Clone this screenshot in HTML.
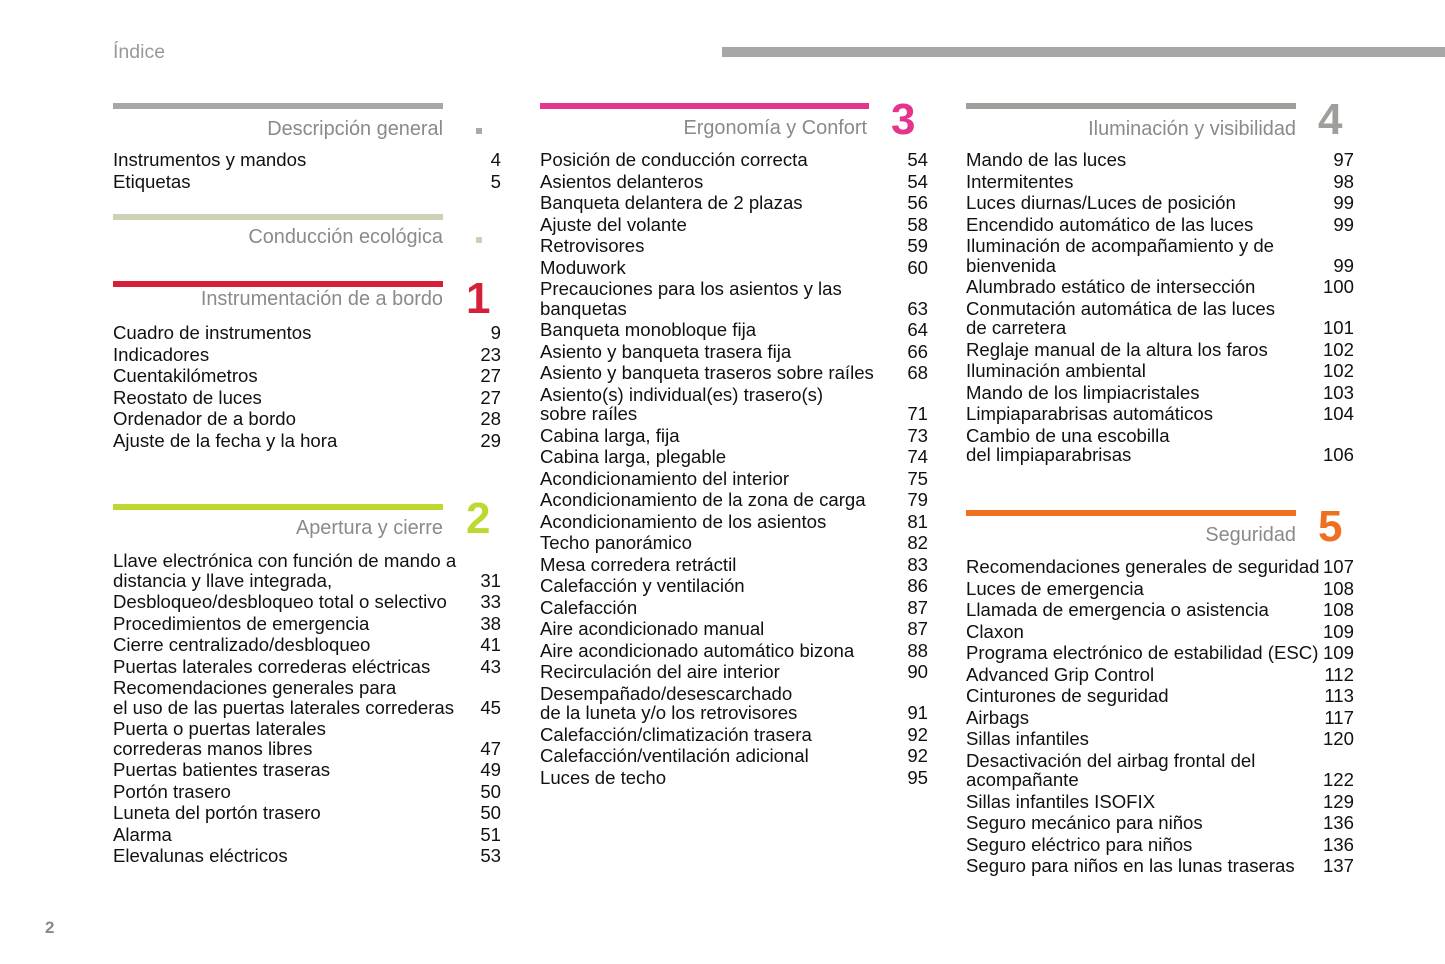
<!DOCTYPE html>
<html><head><meta charset="utf-8"><style>
body{margin:0;width:1445px;height:964px;background:#fff;position:relative;overflow:hidden;font-family:"Liberation Sans",sans-serif;color:#111}
.a{position:absolute}
.bar{position:absolute;height:6px}
.h{position:absolute;font-size:19.9px;color:#8a8a8a;text-align:right;width:330px;line-height:22px}
.big{position:absolute;font-weight:bold;font-size:44px;line-height:44px}
.col{position:absolute;width:388px;font-size:18.6px;line-height:19.5px}
.e{position:relative;padding-top:2px}
.n{position:absolute;right:0;bottom:0}
.sq{position:absolute;width:6px;height:6px}
</style></head><body>
<div class="a" style="left:113px;top:41px;font-size:19.5px;color:#999">Índice</div>
<div class="a" style="left:722px;top:47px;width:723px;height:10px;background:#a7a7aa"></div>
<div class="a" style="left:45px;top:918px;font-size:17px;font-weight:bold;color:#888">2</div>

<!-- col1 -->
<div class="bar" style="left:113px;top:103px;width:330px;background:#a7a7aa"></div>
<div class="h" style="left:113px;top:118px">Descripción general</div>
<div class="sq" style="left:476px;top:128px;background:#aaa"></div>
<div class="col" style="left:113px;top:148px">
<div class="e">Instrumentos y mandos<span class="n">4</span></div>
<div class="e">Etiquetas<span class="n">5</span></div>
</div>
<div class="bar" style="left:113px;top:214px;width:330px;background:#cfd1b6"></div>
<div class="h" style="left:113px;top:226px">Conducción ecológica</div>
<div class="sq" style="left:476px;top:237px;background:#cfd1b6"></div>
<div class="bar" style="left:113px;top:281px;width:330px;background:#d6203a"></div>
<div class="h" style="left:113px;top:288px">Instrumentación de a bordo</div>
<div class="big" style="left:466px;top:277px;color:#d6203a">1</div>
<div class="col" style="left:113px;top:321px">
<div class="e">Cuadro de instrumentos<span class="n">9</span></div>
<div class="e">Indicadores<span class="n">23</span></div>
<div class="e">Cuentakilómetros<span class="n">27</span></div>
<div class="e">Reostato de luces<span class="n">27</span></div>
<div class="e">Ordenador de a bordo<span class="n">28</span></div>
<div class="e">Ajuste de la fecha y la hora<span class="n">29</span></div>
</div>
<div class="bar" style="left:113px;top:504px;width:330px;background:#bfd730"></div>
<div class="h" style="left:113px;top:517px">Apertura y cierre</div>
<div class="big" style="left:466px;top:497px;color:#bfd730">2</div>
<div class="col" style="left:113px;top:549px">
<div class="e">Llave electrónica con función de mando a<br>distancia y llave integrada,<span class="n">31</span></div>
<div class="e">Desbloqueo/desbloqueo total o selectivo<span class="n">33</span></div>
<div class="e">Procedimientos de emergencia<span class="n">38</span></div>
<div class="e">Cierre centralizado/desbloqueo<span class="n">41</span></div>
<div class="e">Puertas laterales correderas eléctricas<span class="n">43</span></div>
<div class="e">Recomendaciones generales para<br>el uso de las puertas laterales correderas<span class="n">45</span></div>
<div class="e">Puerta o puertas laterales<br>correderas manos libres<span class="n">47</span></div>
<div class="e">Puertas batientes traseras<span class="n">49</span></div>
<div class="e">Portón trasero<span class="n">50</span></div>
<div class="e">Luneta del portón trasero<span class="n">50</span></div>
<div class="e">Alarma<span class="n">51</span></div>
<div class="e">Elevalunas eléctricos<span class="n">53</span></div>
</div>

<!-- col2 -->
<div class="bar" style="left:540px;top:103px;width:329px;background:#e5348b"></div>
<div class="h" style="left:537px;top:117px">Ergonomía y Confort</div>
<div class="big" style="left:891px;top:98px;color:#e5348b">3</div>
<div class="col" style="left:540px;top:148px">
<div class="e">Posición de conducción correcta<span class="n">54</span></div>
<div class="e">Asientos delanteros<span class="n">54</span></div>
<div class="e">Banqueta delantera de 2 plazas<span class="n">56</span></div>
<div class="e">Ajuste del volante<span class="n">58</span></div>
<div class="e">Retrovisores<span class="n">59</span></div>
<div class="e">Moduwork<span class="n">60</span></div>
<div class="e">Precauciones para los asientos y las<br>banquetas<span class="n">63</span></div>
<div class="e">Banqueta monobloque fija<span class="n">64</span></div>
<div class="e">Asiento y banqueta trasera fija<span class="n">66</span></div>
<div class="e">Asiento y banqueta traseros sobre raíles<span class="n">68</span></div>
<div class="e">Asiento(s) individual(es) trasero(s)<br>sobre raíles<span class="n">71</span></div>
<div class="e">Cabina larga, fija<span class="n">73</span></div>
<div class="e">Cabina larga, plegable<span class="n">74</span></div>
<div class="e">Acondicionamiento del interior<span class="n">75</span></div>
<div class="e">Acondicionamiento de la zona de carga<span class="n">79</span></div>
<div class="e">Acondicionamiento de los asientos<span class="n">81</span></div>
<div class="e">Techo panorámico<span class="n">82</span></div>
<div class="e">Mesa corredera retráctil<span class="n">83</span></div>
<div class="e">Calefacción y ventilación<span class="n">86</span></div>
<div class="e">Calefacción<span class="n">87</span></div>
<div class="e">Aire acondicionado manual<span class="n">87</span></div>
<div class="e">Aire acondicionado automático bizona<span class="n">88</span></div>
<div class="e">Recirculación del aire interior<span class="n">90</span></div>
<div class="e">Desempañado/desescarchado<br>de la luneta y/o los retrovisores<span class="n">91</span></div>
<div class="e">Calefacción/climatización trasera<span class="n">92</span></div>
<div class="e">Calefacción/ventilación adicional<span class="n">92</span></div>
<div class="e">Luces de techo<span class="n">95</span></div>
</div>

<!-- col3 -->
<div class="bar" style="left:966px;top:103px;width:330px;background:#a09e9b"></div>
<div class="h" style="left:966px;top:118px">Iluminación y visibilidad</div>
<div class="big" style="left:1318px;top:98px;color:#a09e9b">4</div>
<div class="col" style="left:966px;top:148px">
<div class="e">Mando de las luces<span class="n">97</span></div>
<div class="e">Intermitentes<span class="n">98</span></div>
<div class="e">Luces diurnas/Luces de posición<span class="n">99</span></div>
<div class="e">Encendido automático de las luces<span class="n">99</span></div>
<div class="e">Iluminación de acompañamiento y de<br>bienvenida<span class="n">99</span></div>
<div class="e">Alumbrado estático de intersección<span class="n">100</span></div>
<div class="e">Conmutación automática de las luces<br>de carretera<span class="n">101</span></div>
<div class="e">Reglaje manual de la altura los faros<span class="n">102</span></div>
<div class="e">Iluminación ambiental<span class="n">102</span></div>
<div class="e">Mando de los limpiacristales<span class="n">103</span></div>
<div class="e">Limpiaparabrisas automáticos<span class="n">104</span></div>
<div class="e">Cambio de una escobilla<br>del limpiaparabrisas<span class="n">106</span></div>
</div>
<div class="bar" style="left:966px;top:510px;width:330px;background:#f07022"></div>
<div class="h" style="left:966px;top:524px">Seguridad</div>
<div class="big" style="left:1318px;top:505px;color:#f07022">5</div>
<div class="col" style="left:966px;top:555px">
<div class="e">Recomendaciones generales de seguridad<span class="n">107</span></div>
<div class="e">Luces de emergencia<span class="n">108</span></div>
<div class="e">Llamada de emergencia o asistencia<span class="n">108</span></div>
<div class="e">Claxon<span class="n">109</span></div>
<div class="e">Programa electrónico de estabilidad (ESC)<span class="n">109</span></div>
<div class="e">Advanced Grip Control<span class="n">112</span></div>
<div class="e">Cinturones de seguridad<span class="n">113</span></div>
<div class="e">Airbags<span class="n">117</span></div>
<div class="e">Sillas infantiles<span class="n">120</span></div>
<div class="e">Desactivación del airbag frontal del<br>acompañante<span class="n">122</span></div>
<div class="e">Sillas infantiles ISOFIX<span class="n">129</span></div>
<div class="e">Seguro mecánico para niños<span class="n">136</span></div>
<div class="e">Seguro eléctrico para niños<span class="n">136</span></div>
<div class="e">Seguro para niños en las lunas traseras<span class="n">137</span></div>
</div>
</body></html>
